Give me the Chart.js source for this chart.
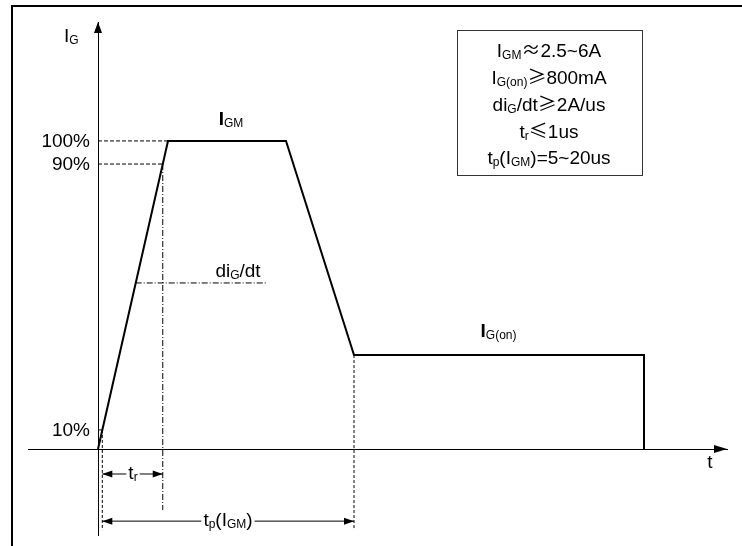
<!DOCTYPE html>
<html>
<head>
<meta charset="utf-8">
<script src="https://cdn.jsdelivr.net/npm/chart.js@4.4.1/dist/chart.umd.min.js"></script>
<style>
    html, body { margin: 0; padding: 0; background: #fff; }
    canvas { display: block; }
</style>
</head>
<body>
<canvas id="gate-chart" width="742" height="546"></canvas>
<script>
// Gate current pulse (time in arbitrary units, current in % of I_GM)
const pulseTime = [0, 7, 18.8, 25.6, 54.6, 54.6];
const pulseCurrent = [0, 100, 100, 30.5, 30.5, 0];

// Level marks on the current axis
const levelValues = [100, 92.5, 6.2];
const levelLabels = ['100%', '90%', '10%'];
const levelRampX = [7, 6.475, 0.43];

// Timing markers: rise time and pulse width
const riseStart = 0.43;
const riseEnd = 6.475;
const pulseEnd = 25.6;
const trArrowY = -8.1;
const tpArrowY = -23.4;
const markerBottom = [-26.3, -19.8, -26.3];

// di/dt reference line
const slopeY = 53.9;
const slopeX = [3.77, 16.8];

const xRange = [-7, 62.9];
const yRange = [-27.9, 138.6];

const FONT = '"Liberation Sans", Arial, sans-serif';
const SYM = '"Noto Sans CJK SC", "DejaVu Sans", sans-serif';

function partFont(kind) {
    if (kind === 's') return '12px ' + FONT;
    if (kind === 'b') return 'bold 19px ' + FONT;
    if (kind === 'm') return '19px ' + SYM;
    return '19px ' + FONT;
}

function richWidth(ctx, parts) {
    let w = 0;
    parts.forEach(p => {
        ctx.font = partFont(p[1]);
        w += ctx.measureText(p[0]).width;
    });
    return w;
}

function drawRich(ctx, parts, x, y, align, clearBg) {
    const w = richWidth(ctx, parts);
    let cx = align === 'center' ? x - w / 2 : (align === 'right' ? x - w : x);
    if (clearBg) {
        ctx.fillStyle = '#fff';
        ctx.fillRect(cx - 2, y - 16, w + 4, 22);
    }
    ctx.fillStyle = '#000';
    ctx.textAlign = 'left';
    ctx.textBaseline = 'alphabetic';
    parts.forEach(p => {
        ctx.font = partFont(p[1]);
        ctx.fillText(p[0], cx, y + (p[1] === 's' ? 2 : 0));
        cx += ctx.measureText(p[0]).width;
    });
}

function arrowHead(ctx, x, y, dx, dy, len, half) {
    ctx.beginPath();
    ctx.moveTo(x, y);
    ctx.lineTo(x - dx * len - dy * half, y - dy * len + dx * half);
    ctx.lineTo(x - dx * len + dy * half, y - dy * len - dx * half);
    ctx.closePath();
    ctx.fill();
}

const boxLines = [
    [['I', 'n'], ['GM', 's'], ['\u2248', 'm'], ['2.5~6A', 'n']],
    [['I', 'n'], ['G(on)', 's'], ['\u2265', 'm'], ['800mA', 'n']],
    [['di', 'n'], ['G', 's'], ['/dt', 'n'], ['\u2265', 'm'], ['2A/us', 'n']],
    [['t', 'n'], ['r', 's'], ['\u2264', 'm'], ['1us', 'n']],
    [['t', 'n'], ['p', 's'], ['(I', 'n'], ['GM', 's'], [')=5~20us', 'n']]
];

const diagramPlugin = {
    id: 'diagram',
    afterDraw(chart) {
        const ctx = chart.ctx;
        const px = v => chart.scales.x.getPixelForValue(v);
        const py = v => chart.scales.y.getPixelForValue(v);
        const area = chart.chartArea;
        ctx.save();

        // frame (top and left edges)
        ctx.fillStyle = '#000';
        ctx.fillRect(11, 5, 731, 2);
        ctx.fillRect(11, 5, 2, 541);

        // axis arrows
        arrowHead(ctx, px(0), area.top, 0, -1, 11, 4);
        arrowHead(ctx, area.right, py(0), 1, 0, 13, 4);

        // timing arrows
        [[trArrowY, riseEnd], [tpArrowY, pulseEnd]].forEach(a => {
            arrowHead(ctx, px(riseStart), py(a[0]), -1, 0, 10, 3.5);
            arrowHead(ctx, px(a[1]), py(a[0]), 1, 0, 10, 3.5);
        });

        // level labels
        levelLabels.forEach((label, i) => {
            ctx.font = '19px ' + FONT;
            ctx.textAlign = 'right';
            ctx.textBaseline = 'middle';
            ctx.fillStyle = '#000';
            ctx.fillText(label, px(-0.8), py(levelValues[i]) + 1);
        });

        drawRich(ctx, [['I', 'n'], ['G', 's']], px(-3.4), py(132.1), 'left');
        drawRich(ctx, [['I', 'b'], ['GM', 's']], px(13.3), py(105.2), 'center');
        drawRich(ctx, [['di', 'n'], ['G', 's'], ['/dt', 'n']], px(14.0), py(55.8), 'center');
        drawRich(ctx, [['I', 'b'], ['G(on)', 's']], px(40.05), py(36.4), 'center');
        drawRich(ctx, [['t', 'n']], px(61.2), py(-6.2), 'center');
        drawRich(ctx, [['t', 'n'], ['r', 's']], px(3.5), py(-9.7), 'center', true);
        drawRich(ctx, [['t', 'n'], ['p', 's'], ['(I', 'n'], ['GM', 's'], [')', 'n']], px(13.0), py(-25.0), 'center', true);

        // parameter box
        ctx.strokeStyle = '#333';
        ctx.lineWidth = 1;
        ctx.strokeRect(457.5, 30.5, 185, 145);
        const baselines = [57, 84, 111, 138, 164];
        boxLines.forEach((parts, i) => drawRich(ctx, parts, 549, baselines[i], 'center'));

        ctx.restore();
    }
};

function segment(x1, y1, x2, y2, dash, width) {
    return {
        data: [{x: x1, y: y1}, {x: x2, y: y2}],
        showLine: true,
        borderColor: '#000',
        borderWidth: width || 1,
        borderDash: dash || [],
        pointRadius: 0
    };
}

const datasets = [];
datasets.push({
    data: pulseTime.map((t, i) => ({x: t, y: pulseCurrent[i]})),
    showLine: true,
    borderColor: '#000',
    borderWidth: 2,
    pointRadius: 0,
    borderJoinStyle: 'miter'
});
levelValues.forEach((v, i) => datasets.push(segment(0, v, levelRampX[i], v, [4, 2])));
datasets.push(segment(riseStart, levelValues[2], riseStart, markerBottom[0], [3, 2]));
datasets.push(segment(riseEnd, levelValues[1], riseEnd, markerBottom[1], [6, 2, 1, 2]));
datasets.push(segment(pulseEnd, pulseCurrent[3], pulseEnd, markerBottom[2], [3, 2]));
datasets.push(segment(slopeX[0], slopeY, slopeX[1], slopeY, [6, 2, 1, 2]));
datasets.push(segment(riseStart, trArrowY, riseEnd, trArrowY));
datasets.push(segment(riseStart, tpArrowY, pulseEnd, tpArrowY));

new Chart(document.getElementById('gate-chart'), {
    type: 'scatter',
    data: { datasets: datasets },
    options: {
        responsive: false,
        animation: false,
        devicePixelRatio: 1,
        layout: { padding: { left: 28, right: 15, top: 22, bottom: 11 } },
        plugins: { legend: { display: false }, tooltip: { enabled: false } },
        scales: {
            x: {
                type: 'linear', min: xRange[0], max: xRange[1], bounds: 'data',
                position: { y: 0 },
                grid: { display: false, drawTicks: false },
                ticks: { display: false },
                border: { color: '#000', width: 1 }
            },
            y: {
                type: 'linear', min: yRange[0], max: yRange[1], bounds: 'data',
                position: { x: 0 },
                grid: { display: false, drawTicks: false },
                ticks: { display: false },
                border: { color: '#000', width: 1 }
            }
        }
    },
    plugins: [diagramPlugin]
});
</script>
</body>
</html>
